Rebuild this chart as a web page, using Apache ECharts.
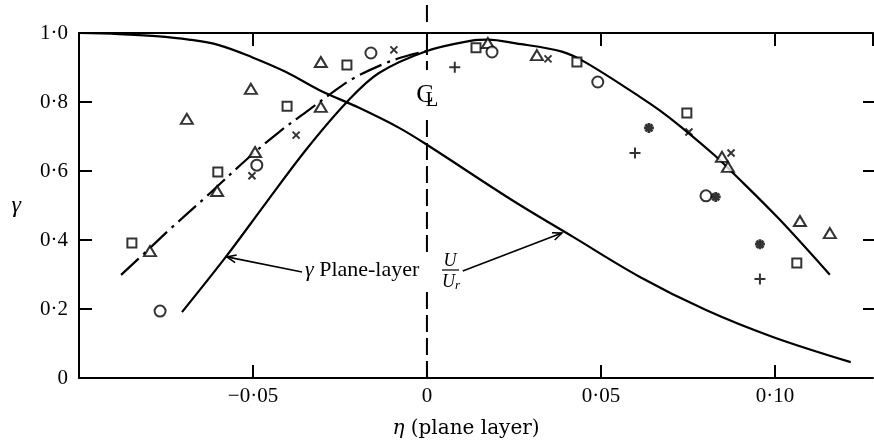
<!DOCTYPE html>
<html><head><meta charset="utf-8">
<script src="https://cdn.jsdelivr.net/npm/echarts@6/dist/echarts.min.js"></script>
<style>html,body{margin:0;padding:0;background:#fff}#c{width:874px;height:446px}</style>
</head><body><div id="c"></div>
<script>
// ---- data ----
const xTickLabels = {'-5':'\u22120\u00b705','0':'0','5':'0\u00b705','10':'0\u00b710'};
const yTickLabels = {'0':'0','2':'0\u00b72','4':'0\u00b74','6':'0\u00b76','8':'0\u00b78','10':'1\u00b70'};
// U/Ur curve
const uRatioCurve = [[-0.1,1.0],[-0.0885,0.997],[-0.0779,0.991],[-0.0684,0.981],[-0.0598,0.965],[-0.0503,0.930],[-0.0405,0.887],[-0.031,0.835],[-0.0195,0.783],[-0.008,0.725],[0,0.676],[0.0244,0.516],[0.042,0.409],[0.0612,0.293],[0.0802,0.197],[0.0994,0.119],[0.1218,0.046]];
// gamma plane-layer curve
const gammaCurve = [[-0.0704,0.191],[-0.0578,0.351],[-0.0463,0.507],[-0.0348,0.661],[-0.023,0.80],[-0.0138,0.884],[0,0.948],[0.0129,0.978],[0.0175,0.981],[0.0256,0.970],[0.0388,0.946],[0.0457,0.914],[0.0612,0.815],[0.0667,0.777],[0.073,0.728],[0.0825,0.647],[0.0882,0.592],[0.1011,0.462],[0.1158,0.299]];
// dash-dot fit curve
const dashDotCurve = [[-0.0879,0.299],[-0.0799,0.374],[-0.0741,0.429],[-0.0635,0.525],[-0.052,0.632],[-0.0425,0.713],[-0.0339,0.777],[-0.0282,0.820],[-0.0216,0.866],[-0.0118,0.913],[-0.005,0.936],[0,0.948]];
// experimental points
const triangles = [[-0.069,0.751],[-0.0506,0.838],[-0.0494,0.655],[-0.0603,0.542],[-0.0796,0.368],[-0.0305,0.916],[-0.0305,0.786],[0.0175,0.971],[0.0316,0.936],[0.0848,0.641],[0.0865,0.612],[0.1072,0.455],[0.1158,0.420]];
const squares = [[-0.0402,0.788],[-0.0601,0.597],[-0.0848,0.391],[-0.023,0.907],[0.0141,0.957],[0.0431,0.916],[0.0747,0.768],[0.1063,0.333]];
const circles = [[-0.0489,0.617],[-0.0767,0.194],[-0.0161,0.942],[0.0187,0.945],[0.0491,0.858],[0.0802,0.528]];
const crosses = [[-0.0503,0.586],[-0.0376,0.704],[-0.0095,0.951],[0.0348,0.925],[0.0753,0.713],[0.0874,0.652]];
const pluses = [[0.0080,0.901],[0.0598,0.652],[0.0957,0.287]];
const asterisks = [[0.0638,0.725],[0.0830,0.525],[0.0957,0.388]];
// annotation arrows: [tail, tip] in data units
const arrowLeft = [[-0.0359,0.307],[-0.0575,0.351]];
const arrowRight = [[0.0103,0.310],[0.0388,0.420]];
// right-hand tick marks (frame edge lies just outside the picture)
const rightTickValues = [0.2,0.4,0.6,0.8];

const SERIF = '"Liberation Serif","Times New Roman",serif';
const chart = echarts.init(document.getElementById('c'), null, {renderer:'canvas'});
const axisLineStyle = {color:'#000', width:2};
function xFmt(v){const k=String(Math.round(v*100)); return xTickLabels[k]!==undefined && Math.abs(v*100-Math.round(v*100))<1e-6 ? xTickLabels[k] : '';}
function yFmt(v){const k=String(Math.round(v*10)); return yTickLabels[k]!==undefined ? yTickLabels[k] : '';}
const hollow = {color:'#fff', borderColor:'#000', borderWidth:2};
const strokeSym = {color:'none', borderColor:'#000', borderWidth:2};
function sc(data, symbol, size, style){
  return {type:'scatter', data, symbol, symbolSize:size, itemStyle:style, z:5, silent:true};
}
const XMAX = 0.1282;
chart.setOption({
  animation:false,
  backgroundColor:'#fff',
  grid:{left:79, top:33, right:1, height:345},
  xAxis:[
    {type:'value', min:-0.1, max:XMAX, interval:0.05, position:'bottom',
     name:'{i|\u03b7} (plane layer)', nameLocation:'middle', nameGap:41,
     nameTextStyle:{fontFamily:'"DejaVu Serif",serif', fontSize:20, color:'#000', padding:[0,20,0,0],
       rich:{i:{fontFamily:'"DejaVu Serif",serif', fontSize:20, fontStyle:'italic', color:'#000'}}},
     axisLine:{onZero:false, lineStyle:axisLineStyle}, axisTick:{inside:true, length:13, lineStyle:axisLineStyle},
     axisLabel:{formatter:xFmt, fontFamily:SERIF, fontSize:21, color:'#000', margin:8, showMaxLabel:false, showMinLabel:false},
     splitLine:{show:false}},
    {type:'value', min:-0.1, max:XMAX, interval:0.05, position:'top',
     axisLine:{onZero:false, lineStyle:axisLineStyle}, axisTick:{inside:true, length:13, lineStyle:axisLineStyle},
     axisLabel:{show:false}, splitLine:{show:false}}
  ],
  yAxis:[
    {type:'value', min:0, max:1, interval:0.2, position:'left',
     name:'\u03b3', nameLocation:'middle', nameRotate:0, nameGap:58,
     nameTextStyle:{fontFamily:SERIF, fontSize:24, fontStyle:'italic', color:'#000'},
     axisLine:{onZero:false, lineStyle:axisLineStyle}, axisTick:{inside:true, length:13, lineStyle:axisLineStyle},
     axisLabel:{formatter:yFmt, fontFamily:SERIF, fontSize:21, color:'#000', margin:11},
     splitLine:{show:false}}
  ],
  series:[
    {type:'line', data:uRatioCurve, smooth:0.35, symbol:'none', lineStyle:{color:'#000', width:2.2}, silent:true, z:3},
    {type:'line', data:gammaCurve, smooth:0.35, symbol:'none', lineStyle:{color:'#000', width:2.2}, silent:true, z:3},
    {type:'line', data:dashDotCurve, smooth:0.35, symbol:'none', lineStyle:{color:'#000', width:2.2, type:[24,6,3,6]}, silent:true, z:3},
    sc(triangles, 'triangle', [12,10], hollow),
    sc(squares, 'rect', 9, hollow),
    sc(circles, 'circle', 11, hollow),
    sc(crosses, 'path://M0,0L10,10M10,0L0,10', 7, strokeSym),
    sc(pluses, 'path://M5,0L5,10M0,5L10,5', 11, strokeSym),
    sc(asterisks, 'path://M5,0L5,10M0,5L10,5M1.5,1.5L8.5,8.5M8.5,1.5L1.5,8.5', 10, {color:'none', borderColor:'#000', borderWidth:2.8})
  ]
});

// annotations
const P = p => chart.convertToPixel({gridIndex:0}, p);
const g = [];
const x0 = P([0,0])[0];
const yTop = P([0,1])[1], yBot = P([0,0])[1];
const dashSegs = [[yTop-28, yTop-6],[yTop+5, yTop+37],[yTop+87, yBot-124],[yBot-86, yBot]];
dashSegs.forEach(s=>g.push({type:'line', shape:{x1:x0,y1:s[0],x2:x0,y2:s[1]}, style:{stroke:'#000', lineWidth:2, lineDash:[17,6]}, z:10}));
rightTickValues.forEach(v=>{const y=P([0,v])[1]; g.push({type:'line', shape:{x1:863,y1:y,x2:874,y2:y}, style:{stroke:'#000', lineWidth:2}, z:10});});
function arrow(a){
  const t=P(a[0]), h=P(a[1]);
  g.push({type:'line', shape:{x1:t[0],y1:t[1],x2:h[0],y2:h[1]}, style:{stroke:'#000', lineWidth:1.6}, z:10});
  const ang=Math.atan2(h[1]-t[1], h[0]-t[0]), L=10, w=0.4;
  g.push({type:'polyline', shape:{points:[[h[0]-L*Math.cos(ang-w), h[1]-L*Math.sin(ang-w)], h, [h[0]-L*Math.cos(ang+w), h[1]-L*Math.sin(ang+w)]]}, style:{stroke:'#000', lineWidth:1.6, fill:null}, z:10});
}
arrow(arrowLeft); arrow(arrowRight);
g.push({type:'text', x:305, y:270, style:{text:'{g|\u03b3} Plane-layer', fontFamily:SERIF, fontSize:22, fill:'#000', align:'left', verticalAlign:'middle',
  rich:{g:{fontFamily:SERIF, fontSize:22, fontStyle:'italic'}}}, z:11});
g.push({type:'text', x:450, y:261, style:{text:'U', fontFamily:SERIF, fontSize:18, fontStyle:'italic', fill:'#000', align:'center', verticalAlign:'middle'}, z:11});
g.push({type:'line', shape:{x1:442,y1:270,x2:459,y2:270}, style:{stroke:'#000', lineWidth:1.2}, z:11});
g.push({type:'text', x:451, y:282, style:{text:'U{s|r}', fontFamily:SERIF, fontSize:18, fontStyle:'italic', fill:'#000', align:'center', verticalAlign:'middle',
  rich:{s:{fontFamily:SERIF, fontSize:13, fontStyle:'italic', padding:[8,0,0,0]}}}, z:11});
g.push({type:'text', x:425, y:95, style:{text:'C', fontFamily:SERIF, fontSize:26, fill:'#000', align:'center', verticalAlign:'middle'}, z:11});
g.push({type:'text', x:432, y:100, style:{text:'L', fontFamily:SERIF, fontSize:21, fill:'#000', align:'center', verticalAlign:'middle'}, z:11});
chart.setOption({graphic:g});
</script></body></html>
